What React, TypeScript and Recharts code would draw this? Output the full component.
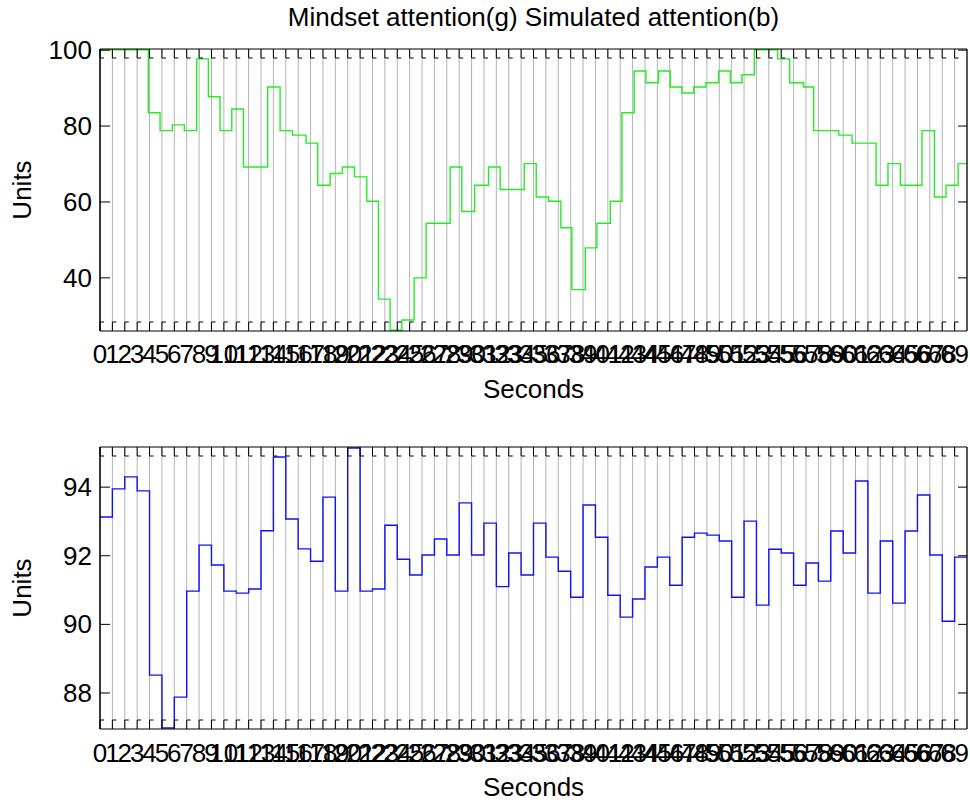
import React from 'react';
import { LineChart, Line, XAxis, YAxis, CartesianGrid } from 'recharts';

// x ticks (seconds)
const seconds = [
  0, 1, 2, 3, 4, 5, 6, 7, 8, 9, 10, 11, 12, 13, 14, 15, 16, 17, 18, 19,
  20, 21, 22, 23, 24, 25, 26, 27, 28, 29, 30, 31, 32, 33, 34, 35, 36, 37, 38, 39,
  40, 41, 42, 43, 44, 45, 46, 47, 48, 49, 50, 51, 52, 53, 54, 55, 56, 57, 58, 59,
  60, 61, 62, 63, 64, 65, 66, 67, 68, 69,
];
const xEnd = 70;

// Mindset attention (green) – sample times and values
const greenTimes = [
  0, 3.9, 4.85, 5.84, 6.81, 7.81, 8.75, 9.69, 10.64, 11.58,
  13.54, 14.54, 15.54, 16.64, 17.58, 18.58, 19.57, 20.54, 21.54, 22.48,
  23.42, 24.37, 25.36, 26.33, 28.27, 29.21, 30.24, 31.37, 32.31, 34.25,
  35.22, 36.21, 37.21, 38.1, 39.18, 40.12, 41.2, 42.14, 43.13, 44.08,
  45.1, 46.04, 46.98, 47.93, 48.92, 49.95, 50.89, 51.83, 52.83, 54.71,
  55.68, 56.81, 57.62, 59.64, 60.72, 62.66, 63.62, 64.62, 66.37, 67.37,
  68.31, 69.28, 70,
];
const greenValues = [
  100.1, 83.5, 78.8, 80.3, 78.8, 97.7, 87.7, 78.8, 84.5, 69.2,
  90.3, 78.8, 77.6, 75.5, 64.4, 67.5, 69.2, 66.6, 60.2, 34.4,
  26.2, 28.9, 40.0, 54.4, 69.2, 57.5, 64.4, 69.2, 63.3, 70.1,
  61.3, 60.2, 53.2, 36.9, 47.9, 54.4, 60.2, 83.5, 94.5, 91.4,
  94.5, 90.3, 88.7, 90.3, 91.4, 94.5, 91.4, 93.5, 100.1, 97.7,
  91.4, 90.3, 78.8, 77.6, 75.5, 64.4, 70.1, 64.4, 78.8, 61.3,
  64.4, 70.1, 70.1,
];

// Simulated attention (blue) – one value per second
const blueValues = [
  93.13, 93.95, 94.3, 93.89, 88.52, 86.98, 87.88, 90.97, 92.31, 91.73,
  90.97, 90.91, 91.03, 92.73, 94.88, 93.07, 92.2, 91.84, 93.71, 90.97,
  95.14, 90.97, 91.03, 92.89, 91.9, 91.44, 92.02, 92.49, 92.02, 93.54,
  92.02, 92.95, 91.1, 92.08, 91.44, 92.95, 91.96, 91.55, 90.79, 93.48,
  92.54, 90.85, 90.21, 90.74, 91.67, 91.96, 91.14, 92.54, 92.66, 92.6,
  92.43, 90.79, 93.01, 90.56, 92.19, 92.08, 91.14, 91.79, 91.26, 92.72,
  92.08, 94.18, 90.91, 92.43, 90.62, 92.72, 93.77, 92.02, 90.09, 91.96,
];

const topYTicks = [40, 60, 80, 100];
const bottomYTicks = [88, 90, 92, 94];
const topYDomain = [26, 100.3];
const bottomYDomain = [86.95, 95.17];

const titleText = 'Mindset attention(g) Simulated attention(b)';
const xLabelText = 'Seconds';
const yLabelText = 'Units';

const greenData = greenTimes.map((t, i) => ({ t, v: greenValues[i] }));
const blueData = [
  ...seconds.map((t, i) => ({ t, v: blueValues[i] })),
  { t: xEnd, v: blueValues[blueValues.length - 1] },
];

const FONT = '"Liberation Sans", Arial, Helvetica, sans-serif';
const FS = 26;
const TICK_LEN = 9;
const GRID = '#b3b3b3';

const makeBottomTick = (labelOffset: number) => (props: any) => {
  const { x, y, payload } = props;
  return (
    <g>
      <path d={`M${x},${y} V${y - TICK_LEN} h4`} stroke="#000" fill="none" strokeWidth={1} />
      <text x={x} y={y + labelOffset} textAnchor="middle" fontSize={FS} fontFamily={FONT} fill="#000">
        {payload.value}
      </text>
    </g>
  );
};

const TopTick = (props: any) => {
  const { x, y } = props;
  return <path d={`M${x},${y} V${y + TICK_LEN} h4`} stroke="#000" fill="none" strokeWidth={1} />;
};

const LeftTick = (props: any) => {
  const { x, y, payload } = props;
  return (
    <g>
      <path d={`M${x},${y} h10`} stroke="#000" fill="none" strokeWidth={1} />
      <text x={x - 8} y={y + 9} textAnchor="end" fontSize={FS} fontFamily={FONT} fill="#000">
        {payload.value}
      </text>
    </g>
  );
};

const RightTick = (props: any) => {
  const { x, y } = props;
  return <path d={`M${x},${y} h-9`} stroke="#000" fill="none" strokeWidth={1} />;
};

// x label (and optionally the title, placed above the plot area)
const makeXLabel = (offset: number, titleAbove: number | null) => (props: any) => {
  const vb = props.viewBox || {};
  const cx = vb.x + vb.width / 2;
  return (
    <g>
      <text x={cx} y={vb.y + offset} textAnchor="middle" fontSize={FS} fontFamily={FONT} fill="#000">
        {xLabelText}
      </text>
      {titleAbove !== null ? (
        <text x={cx} y={titleAbove} textAnchor="middle" fontSize={FS} fontFamily={FONT} fill="#000">
          {titleText}
        </text>
      ) : null}
    </g>
  );
};

const YLabel = (props: any) => {
  const vb = props.viewBox || {};
  const cy = vb.y + vb.height / 2;
  return (
    <text x={30.5} y={cy} transform={`rotate(-90, 30.5, ${cy})`} textAnchor="middle" fontSize={FS} fontFamily={FONT} fill="#000">
      {yLabelText}
    </text>
  );
};

type PanelProps = {
  data: { t: number; v: number }[];
  color: string;
  yDomain: number[];
  yTicks: number[];
  height: number;
  marginTop: number;
  xAxisHeight: number;
  tickLabelOffset: number;
  xLabelOffset: number;
  titleY: number | null;
};

const Panel = (p: PanelProps) => (
  <LineChart
    width={970}
    height={p.height}
    data={p.data}
    margin={{ top: p.marginTop, right: 2, bottom: 0, left: 0 }}
    style={{ overflow: 'visible' }}
  >
    <CartesianGrid vertical horizontal={false} stroke={GRID} strokeWidth={1} xAxisId="b" yAxisId="l" />
    <XAxis
      xAxisId="b"
      type="number"
      dataKey="t"
      domain={[0, xEnd]}
      ticks={seconds}
      interval={0}
      allowDataOverflow
      height={p.xAxisHeight}
      tickSize={0}
      tickMargin={0}
      tickLine={false}
      axisLine={{ stroke: '#000', strokeWidth: 1.2 }}
      tick={makeBottomTick(p.tickLabelOffset)}
      label={{ content: makeXLabel(p.xLabelOffset, p.titleY) } as any}
    />
    <XAxis
      xAxisId="top"
      orientation="top"
      type="number"
      dataKey="t"
      domain={[0, xEnd]}
      ticks={seconds}
      interval={0}
      allowDataOverflow
      height={1}
      tickSize={0}
      tickMargin={0}
      tickLine={false}
      axisLine={{ stroke: '#000', strokeWidth: 1.2 }}
      tick={TopTick}
    />
    <YAxis
      yAxisId="l"
      type="number"
      domain={p.yDomain}
      ticks={p.yTicks}
      interval={0}
      allowDataOverflow
      width={100}
      tickSize={0}
      tickMargin={0}
      tickLine={false}
      axisLine={{ stroke: '#000', strokeWidth: 1.5 }}
      tick={LeftTick}
      label={{ content: YLabel } as any}
    />
    <YAxis
      yAxisId="r"
      orientation="right"
      type="number"
      domain={p.yDomain}
      ticks={p.yTicks}
      interval={0}
      allowDataOverflow
      width={1}
      tickSize={0}
      tickMargin={0}
      tickLine={false}
      axisLine={{ stroke: '#000', strokeWidth: 1.2 }}
      tick={RightTick}
    />
    {/* invisible companion series so the top and right box axes are drawn */}
    <Line
      xAxisId="top"
      yAxisId="r"
      type="stepAfter"
      dataKey="v"
      stroke="none"
      strokeWidth={0}
      dot={false}
      activeDot={false}
      legendType="none"
      isAnimationActive={false}
    />
    <Line
      xAxisId="b"
      yAxisId="l"
      type="stepAfter"
      dataKey="v"
      stroke={p.color}
      strokeWidth={1.4}
      dot={false}
      activeDot={false}
      isAnimationActive={false}
    />
  </LineChart>
);

export default function App() {
  return (
    <div style={{ position: 'absolute', left: 0, top: 0, width: 970, height: 803, background: '#fff', overflow: 'hidden' }}>
      <div style={{ position: 'absolute', left: 0, top: 0 }}>
        <Panel
          data={greenData}
          color="#22ee22"
          yDomain={topYDomain}
          yTicks={topYTicks}
          height={410}
          marginTop={48}
          xAxisHeight={79}
          tickLabelOffset={32}
          xLabelOffset={67}
          titleY={26}
        />
      </div>
      <div style={{ position: 'absolute', left: 0, top: 400 }}>
        <Panel
          data={blueData}
          color="#1010ff"
          yDomain={bottomYDomain}
          yTicks={bottomYTicks}
          height={403}
          marginTop={46}
          xAxisHeight={74}
          tickLabelOffset={33}
          xLabelOffset={67}
          titleY={null}
        />
      </div>
    </div>
  );
}
